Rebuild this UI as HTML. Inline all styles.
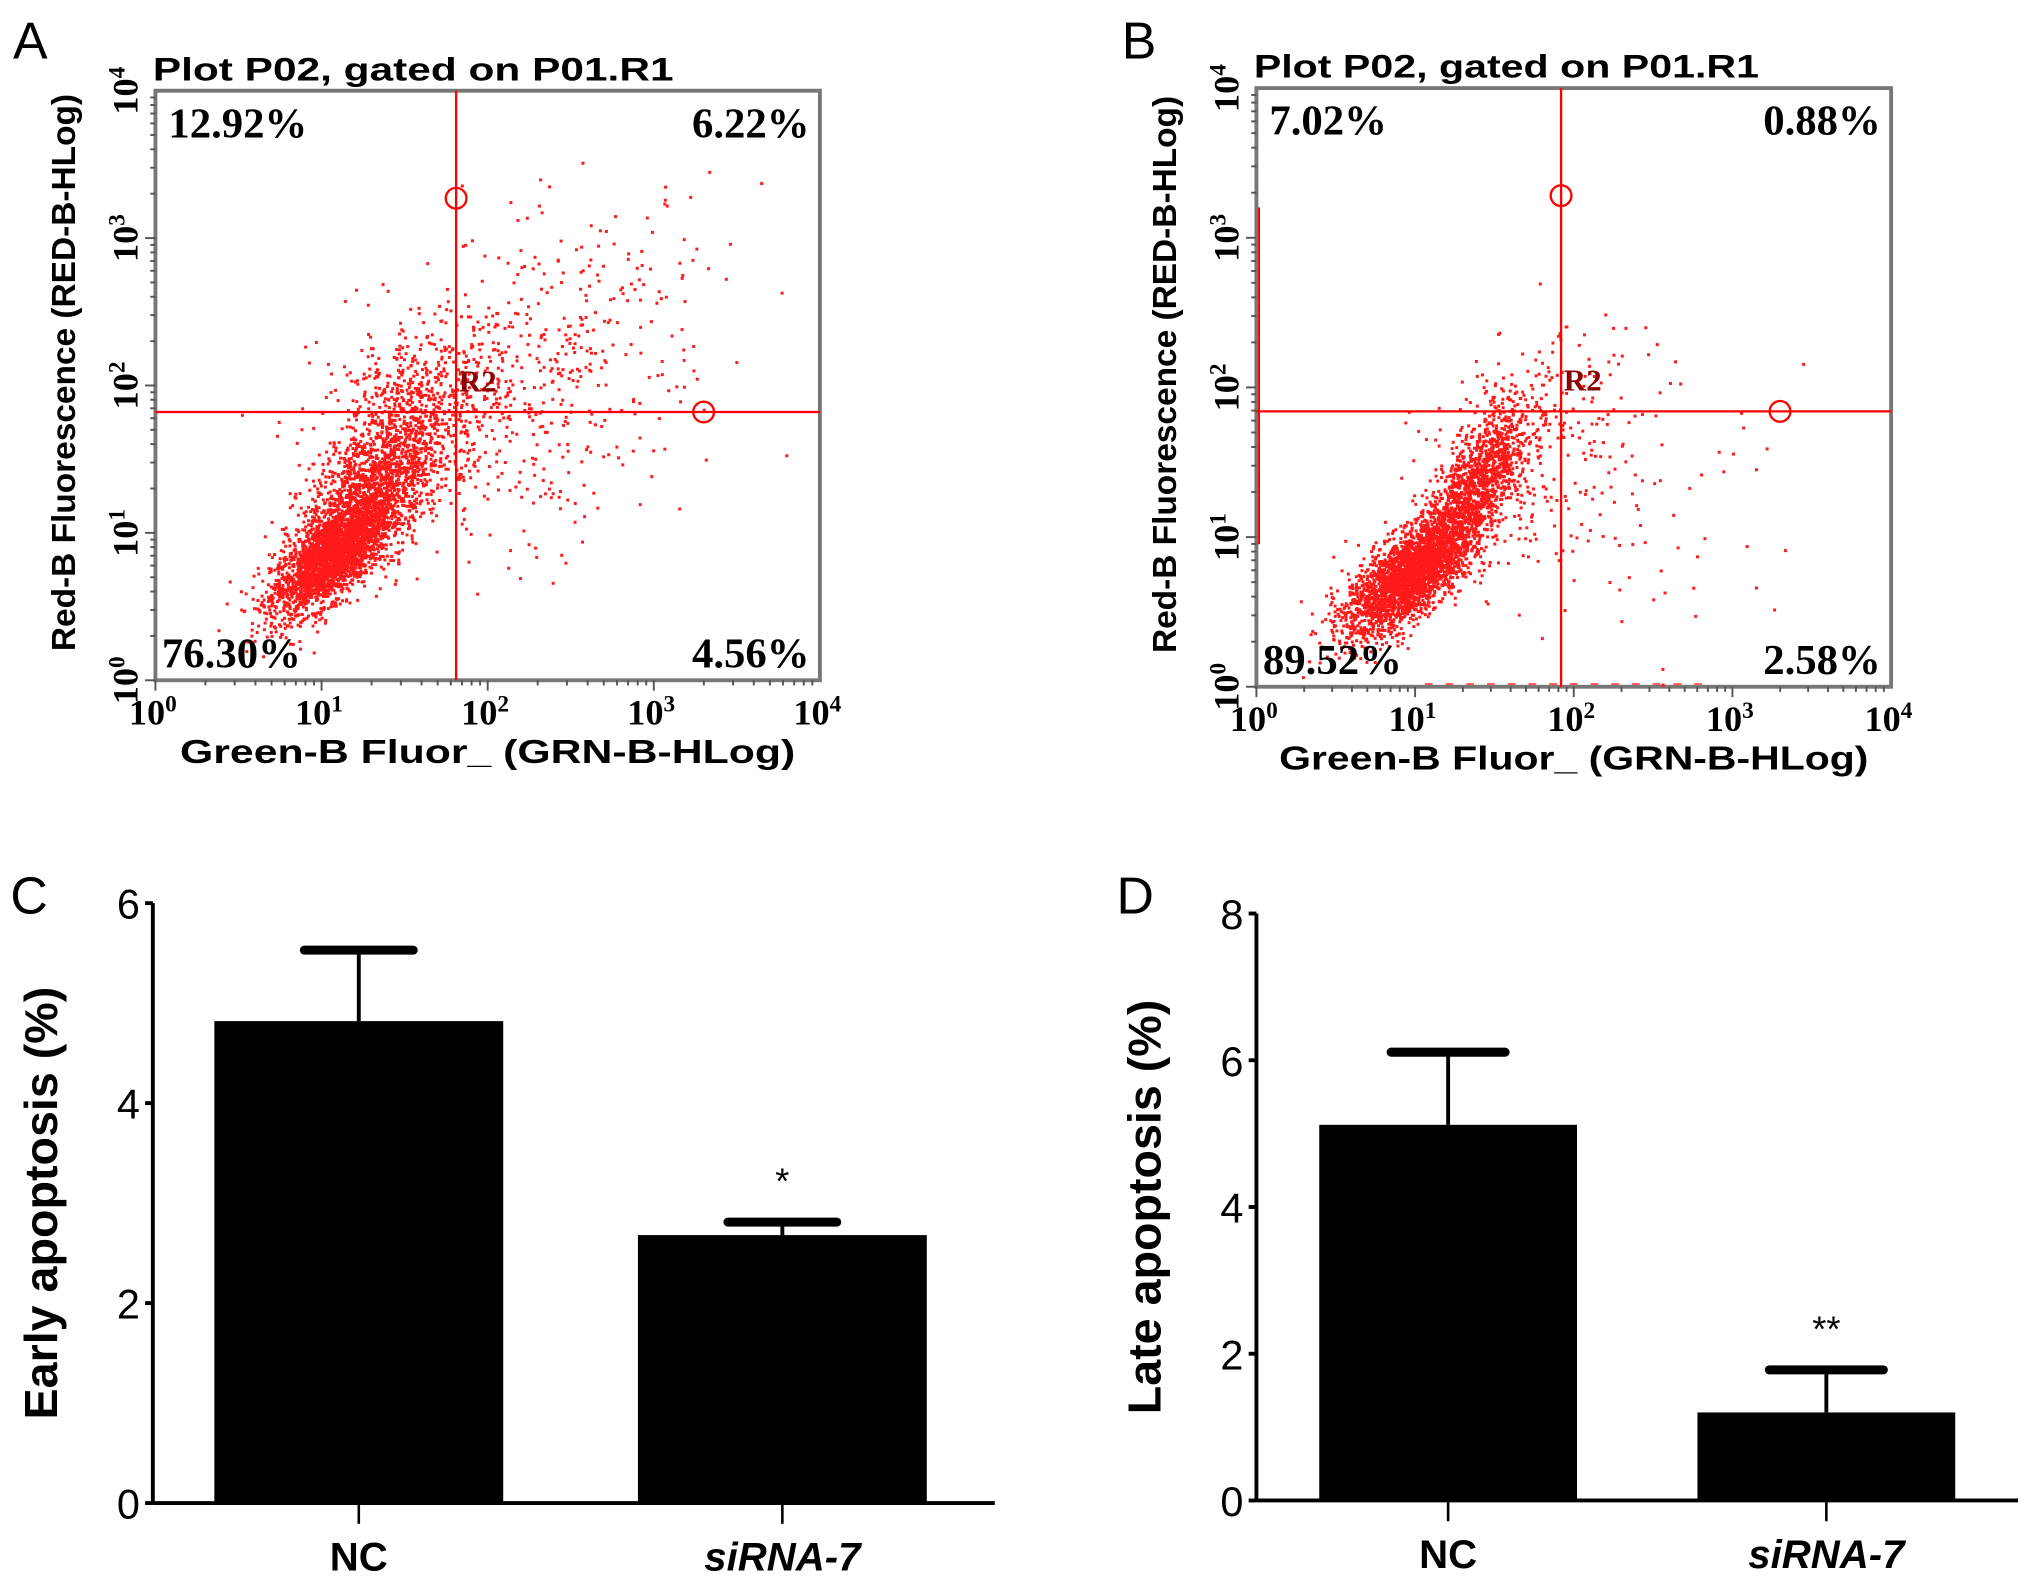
<!DOCTYPE html>
<html><head><meta charset="utf-8"><style>
html,body{margin:0;padding:0;background:#fff;width:2031px;height:1586px;overflow:hidden}
svg{display:block}
.sans{font-family:"Liberation Sans",sans-serif}
.serif{font-family:"Liberation Serif",serif}
</style></head><body>
<svg id="fig" width="2031" height="1586" viewBox="0 0 1568 1224" preserveAspectRatio="none" xmlns="http://www.w3.org/2000/svg"></svg>
<script>
// ---- Flow cytometry cluster descriptors (log10 units): cx, cy, sx, sy, rho, n
const clustersA = [[1.05,0.85,0.18,0.2,0.7,2400],[1.3,1.3,0.22,0.3,0.6,1500],[1.55,1.85,0.28,0.32,0.3,500],[2.4,2.3,0.5,0.45,0.3,330],[2.0,1.5,0.5,0.4,0,200]];
const clustersB = [[0.95,0.75,0.2,0.2,0.7,2500],[1.35,1.3,0.18,0.3,0.75,1300],[1.7,1.6,0.35,0.35,0.3,260],[2.2,1.4,0.5,0.55,0,110]];
const quadA = ["12.92%","6.22%","76.30%","4.56%"];
const quadB = ["7.02%","0.88%","89.52%","2.58%"];
const gateA = [1.81, 1.82]; // log10 x, y of gates
const gateB = [1.92, 1.84];
const logTicks = [0,1,2,3,4];
// ---- Bar chart data
const groups = ["NC","siRNA-7"];
const earlyVals = [4.82, 2.68];
const earlyErr = [0.71, 0.13];
const lateVals = [5.12, 1.2];
const lateErr = [0.99, 0.58];
const earlyTicks = [0,2,4,6];
const lateTicks = [0,2,4,6,8];

const NS="http://www.w3.org/2000/svg";
const svg=document.getElementById('fig');
function mk(tag,attrs,parent,text){const e=document.createElementNS(NS,tag);for(const k in attrs)e.setAttribute(k,attrs[k]);if(text!==undefined)e.textContent=text;(parent||svg).appendChild(e);return e;}

let seed=12345;
function rnd(){seed=(seed*1103515245+12345)%2147483648;return seed/2147483648;}
function gauss(){let u=rnd()||1e-6,v=rnd();return Math.sqrt(-2*Math.log(u))*Math.cos(2*Math.PI*v);}

function flow(p){
  const g=mk('g',{});
  
  
  const X=v=>p.l+(p.r-p.l)*v/4, Y=v=>p.b-(p.b-p.t)*v/4;
  mk('text',{x:p.lx,y:p.ly,'font-size':40,class:'sans'},g,p.letter);
  const tt=mk('text',{x:p.l-2,y:p.t-8,'font-size':25,'font-weight':'bold',class:'sans',textLength:p.titleLen,lengthAdjust:'spacingAndGlyphs'},g,'Plot P02, gated on P01.R1');
  
  const box=mk('rect',{x:p.l,y:p.t,width:p.r-p.l,height:p.b-p.t,fill:'#fff',stroke:'#777','stroke-width':3},g);
  
  for(let d=0;d<4;d++)for(let k=1;k<10;k++){const v=d+Math.log10(k);
    mk('line',{x1:X(v),x2:X(v),y1:p.b,y2:p.b+(k==1?8:4),stroke:'#555','stroke-width':1.5},g);
    mk('line',{y1:Y(v),y2:Y(v),x1:p.l,x2:p.l-(k==1?8:4),stroke:'#555','stroke-width':1.5},g);}
  const pts=mk('g',{fill:'#ff1a1a'},g);
  
  p.clusters.forEach(c=>{for(let i=0;i<c[5];i++){const a=gauss(),b=gauss();const xv=c[0]+c[2]*a,yv=c[1]+c[3]*(c[4]*a+Math.sqrt(1-c[4]*c[4])*b);
    if(xv<0.02||xv>3.98||yv<0.02||yv>3.98)continue;
    mk('rect',{x:X(xv).toFixed(1),y:Y(yv).toFixed(1),width:2.3,height:2.3},pts);}});
  const gx=X(p.gate[0]),gy=Y(p.gate[1]);
  const vl=mk('line',{x1:gx,x2:gx,y1:p.t,y2:p.b,stroke:'#f00','stroke-width':1.8},g);
  const hl=mk('line',{x1:p.l,x2:p.r,y1:gy,y2:gy,stroke:'#f00','stroke-width':1.8},g);
  const c1=mk('circle',{cx:gx,cy:p.t+83,r:8,fill:'none',stroke:'#f00','stroke-width':1.8},g);
  const c2=mk('circle',{cx:X(3.3),cy:gy,r:8,fill:'none',stroke:'#f00','stroke-width':1.8},g);
  mk('text',{x:gx+2,y:gy-16,'font-size':24,'font-weight':'bold',class:'serif',fill:'#8b0000'},g,'R2');
  const q=p.quad;
  mk('text',{x:p.l+10,y:p.t+36,'font-size':33,'font-weight':'bold',class:'serif'},g,q[0]);
  mk('text',{x:p.r-8,y:p.t+36,'font-size':33,'font-weight':'bold',class:'serif','text-anchor':'end'},g,q[1]);
  mk('text',{x:p.l+5,y:p.b-10,'font-size':33,'font-weight':'bold',class:'serif'},g,q[2]);
  mk('text',{x:p.r-8,y:p.b-10,'font-size':33,'font-weight':'bold',class:'serif','text-anchor':'end'},g,q[3]);
  logTicks.forEach(t=>{
    const tx=mk('text',{x:X(t)-2,y:p.b+34,'font-size':28,'font-weight':'bold',class:'serif','text-anchor':'middle'},g);
    
    tx.innerHTML='10<tspan dy="-10" font-size="18">'+t+'</tspan>';
    const ty=mk('text',{x:0,y:0,'font-size':28,'font-weight':'bold',class:'serif','text-anchor':'middle',transform:`translate(${p.l-14},${Y(t)}) rotate(-90)`},g);
    
    ty.innerHTML='10<tspan dy="-10" font-size="18">'+t+'</tspan>';
  });
  mk('text',{x:(p.l+p.r)/2,y:p.b+64,'font-size':26,'font-weight':'bold',class:'sans','text-anchor':'middle',textLength:p.xLen,lengthAdjust:'spacingAndGlyphs'},g,'Green-B Fluor_ (GRN-B-HLog)');
  mk('text',{x:0,y:0,'font-size':26,'font-weight':'bold',class:'sans','text-anchor':'middle',textLength:p.yLen,lengthAdjust:'spacingAndGlyphs',transform:`translate(${p.l-62},${(p.t+p.b)/2-10}) rotate(-90)`},g,'Red-B Fluorescence (RED-B-HLog)');
}
flow({name:'panel-a-flow',letter:'A',lx:10,ly:45,l:120,r:633,t:70,b:525,clusters:clustersA,quad:quadA,gate:gateA,titleLen:402,xLen:475,yLen:430});
flow({name:'panel-b-flow',letter:'B',lx:866,ly:45,l:970,r:1460,t:68,b:530,clusters:clustersB,quad:quadB,gate:gateB,titleLen:390,xLen:455,yLen:430});
mk('line',{x1:972,x2:972,y1:160,y2:420,stroke:'#f00','stroke-width':1.5});
mk('line',{x1:1100,x2:1320,y1:528,y2:528,stroke:'#f55','stroke-width':1.5,'stroke-dasharray':'6 10'});

function bars(p){
  const g=mk('g',{});
  
  
  const Y=v=>p.b-(p.b-p.t)*v/p.max;
  mk('text',{x:p.lx,y:p.ly,'font-size':40,class:'sans'},g,p.letter);
  mk('line',{x1:p.l,x2:p.l,y1:p.t,y2:p.b,stroke:'#000','stroke-width':3},g);
  mk('line',{x1:p.l,x2:p.r,y1:p.b,y2:p.b,stroke:'#000','stroke-width':3},g);
  p.ticks.forEach(t=>{
    mk('line',{x1:p.l-6,x2:p.l,y1:Y(t),y2:Y(t),stroke:'#000','stroke-width':3},g);
    mk('text',{x:p.l-10,y:Y(t)+12,'font-size':32,class:'sans','text-anchor':'end'},g,String(t));
  });
  p.vals.forEach((v,i)=>{
    const cx=p.cx[i],hw=p.bw/2;
    const top=Y(v+p.err[i]);
    mk('line',{x1:cx,x2:cx,y1:Y(v),y2:top,stroke:'#000','stroke-width':3},g);
    mk('line',{x1:cx-p.cap,x2:cx+p.cap,y1:top,y2:top,stroke:'#000','stroke-width':7,'stroke-linecap':'round'},g);
    mk('rect',{x:cx-hw,y:Y(v),width:p.bw,height:p.b-Y(v),fill:'#000'},g);
    mk('line',{x1:cx,x2:cx,y1:p.b,y2:p.b+16,stroke:'#000','stroke-width':2},g);
    mk('text',{x:cx,y:p.b+52,'font-size':31,'font-weight':'bold',class:'sans','text-anchor':'middle','font-style':i?'italic':'normal'},g,groups[i]);
  });
  mk('text',{x:p.cx[1],y:Y(p.vals[1]+p.err[1])-22,'font-size':28,class:'sans','text-anchor':'middle'},g,p.star);
  mk('text',{x:0,y:0,'font-size':36,'font-weight':'bold',class:'sans','text-anchor':'middle',transform:`translate(${p.tx},${(p.t+p.b)/2}) rotate(-90)`},g,p.title);
}
bars({name:'panel-c-early',letter:'C',lx:8,ly:705,l:118,r:768,t:697,b:1160,max:6,ticks:earlyTicks,vals:earlyVals,err:earlyErr,cx:[277,604],bw:223,cap:42,star:'*',title:'Early apoptosis (%)',tx:44});
bars({name:'panel-d-late',letter:'D',lx:862,ly:705,l:970,r:1558,t:705,b:1158,max:8,ticks:lateTicks,vals:lateVals,err:lateErr,cx:[1118,1410],bw:199,cap:44,star:'**',title:'Late apoptosis (%)',tx:896});
</script>
</body></html>
